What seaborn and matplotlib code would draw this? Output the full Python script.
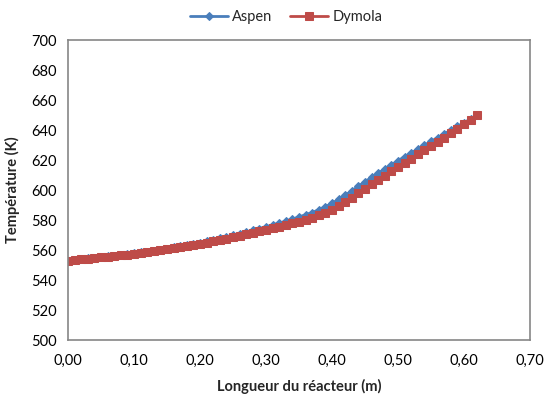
import matplotlib
matplotlib.use("Agg")
import matplotlib.pyplot as plt
import seaborn as sns
import pandas as pd

longueur = [0.00, 0.01, 0.02, 0.03, 0.04, 0.05, 0.06, 0.07, 0.08, 0.09,
            0.10, 0.11, 0.12, 0.13, 0.14, 0.15, 0.16, 0.17, 0.18, 0.19,
            0.20, 0.21, 0.22, 0.23, 0.24, 0.25, 0.26, 0.27, 0.28, 0.29,
            0.30, 0.31, 0.32, 0.33, 0.34, 0.35, 0.36, 0.37, 0.38, 0.39,
            0.40, 0.41, 0.42, 0.43, 0.44, 0.45, 0.46, 0.47, 0.48, 0.49,
            0.50, 0.51, 0.52, 0.53, 0.54, 0.55, 0.56, 0.57, 0.58, 0.59,
            0.60, 0.61, 0.62]

aspen = [553.0, 553.4, 553.9, 554.4, 554.8, 555.3, 555.8, 556.3, 556.8, 557.3,
         557.8, 558.4, 559.0, 559.6, 560.3, 561.0, 561.7, 562.5, 563.3, 564.1,
         565.0, 565.9, 566.8, 567.8, 568.8, 569.8, 570.9, 572.0, 573.1, 574.3,
         575.5, 576.7, 577.9, 579.2, 580.6, 582.0, 583.5, 585.0, 586.8, 588.9,
         591.2, 593.8, 596.6, 599.5, 602.6, 605.6, 608.5, 611.3, 614.1, 616.9,
         619.6, 622.2, 624.8, 627.3, 629.9, 632.4, 634.9, 637.4, 639.9, 642.4,
         644.9, 647.4, 650.0]

dymola = [553.0, 553.4, 553.9, 554.3, 554.8, 555.2, 555.6, 556.1, 556.5, 557.0,
          557.5, 558.0, 558.6, 559.2, 559.8, 560.4, 561.1, 561.8, 562.5, 563.2,
          564.0, 564.8, 565.7, 566.6, 567.5, 568.5, 569.5, 570.5, 571.5, 572.5,
          573.5, 574.5, 575.5, 576.6, 577.7, 578.8, 580.1, 581.5, 583.1, 584.9,
          587.0, 589.4, 592.0, 594.8, 597.9, 600.9, 603.8, 606.7, 609.6, 612.5,
          615.4, 618.2, 621.0, 623.8, 626.6, 629.4, 632.2, 635.0, 637.9, 640.9,
          643.9, 646.9, 650.0]

x_ticks = [0.0, 0.1, 0.2, 0.3, 0.4, 0.5, 0.6, 0.7]
y_ticks = [500, 520, 540, 560, 580, 600, 620, 640, 660, 680, 700]

sns.set_style("white")
plt.rcParams['font.family'] = ['Lato', 'DejaVu Sans']

df_a = pd.DataFrame({"x": longueur, "T": aspen})
df_d = pd.DataFrame({"x": longueur, "T": dymola})

blue = "#4A7EBB"
red = "#BE4B48"

fig = plt.figure(figsize=(5.46, 3.94), dpi=100)
ax = fig.add_axes([68 / 546, 1 - 340 / 394, (530 - 68) / 546, (340 - 40) / 394])

sns.lineplot(data=df_a, x="x", y="T", ax=ax, color=blue, linewidth=2.0,
             marker="D", markersize=4.5, markeredgecolor=blue, markerfacecolor=blue,
             label="Aspen")
sns.lineplot(data=df_d, x="x", y="T", ax=ax, color=red, linewidth=2.0,
             marker="s", markersize=5.5, markeredgecolor=red, markerfacecolor=red,
             label="Dymola")

ax.set_xlim(0, 0.7)
ax.set_ylim(500, 700)
ax.set_xticks(x_ticks)
ax.set_yticks(y_ticks)
ax.set_xticklabels([f"{v:.2f}".replace(".", ",") for v in x_ticks], fontsize=10.5)
ax.set_yticklabels([str(v) for v in y_ticks], fontsize=10.5)
ax.tick_params(axis="both", direction="out", length=4, width=1, color="#868686",
               pad=4, labelcolor="#000000")
ax.tick_params(axis="x", pad=6)
for s in ax.spines.values():
    s.set_color("#868686")
    s.set_linewidth(1.2)
    s.set_visible(True)

ax.set_xlabel("Longueur du réacteur (m)", fontsize=10.5, fontweight="bold", labelpad=8)
ax.set_ylabel("Température (K)", fontsize=10.5, fontweight="bold", labelpad=8)

ax.legend(loc="center", bbox_to_anchor=(286 / 546, 1 - 17 / 394),
          bbox_transform=fig.transFigure, ncol=2, frameon=False, fontsize=10.5,
          handlelength=2.6, columnspacing=1.2, handletextpad=0.3)

fig.savefig("out.png", dpi=100)
